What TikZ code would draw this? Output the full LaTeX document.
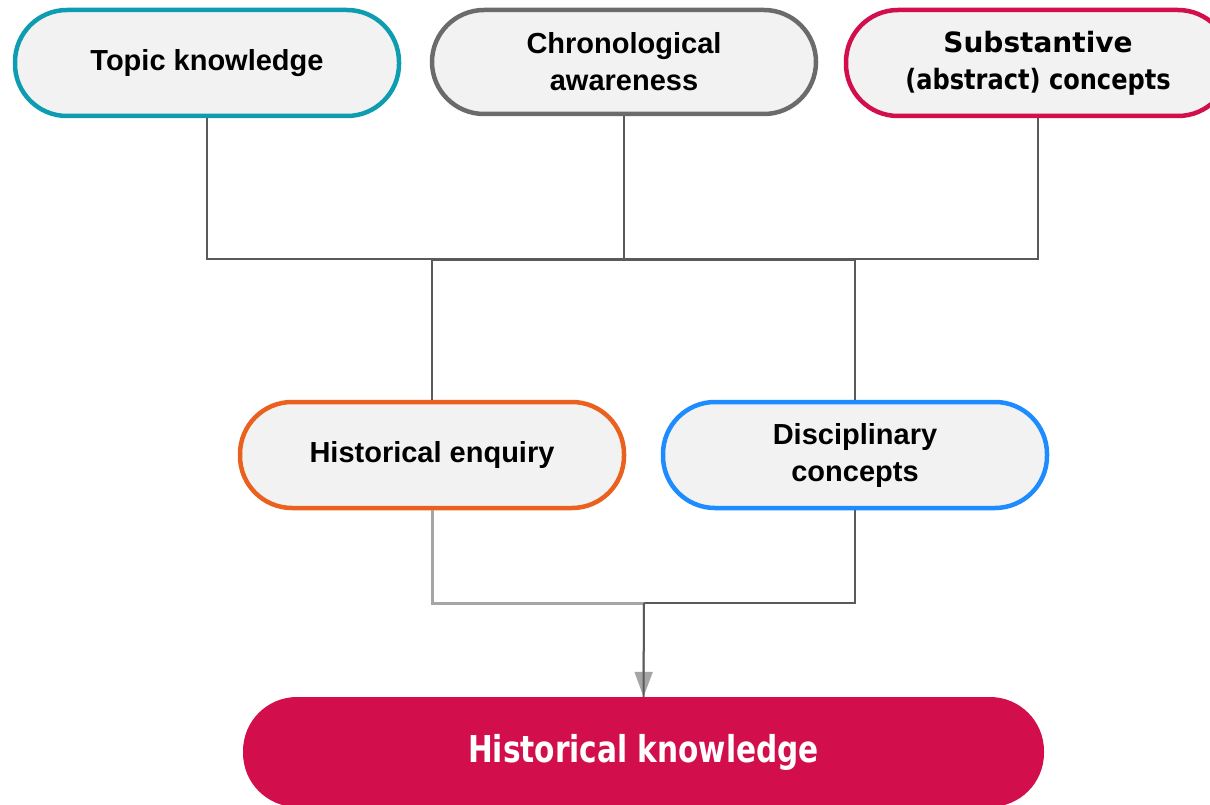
\documentclass[tikz,border=0pt]{standalone}
\usepackage{fontspec}
\setmainfont{Liberation Sans}
\newfontfamily\tahoma{DejaVu Sans}
\newfontfamily\hkfont[FakeStretch=0.8]{DejaVu Sans}
\usetikzlibrary{arrows.meta}
\definecolor{cteal}{RGB}{14,157,176}
\definecolor{cgray}{RGB}{107,107,107}
\definecolor{ccrimson}{RGB}{210,14,76}
\definecolor{corange}{RGB}{234,96,30}
\definecolor{cblue}{RGB}{30,140,255}
\definecolor{cfill}{RGB}{242,242,242}
\definecolor{cline}{RGB}{90,90,90}
\definecolor{clight}{RGB}{165,165,165}
\tikzset{
  pill/.style={draw, line width=4.5pt, fill=cfill, rounded corners=52pt,
    minimum width=384pt, minimum height=106pt, inner sep=0pt, align=center,
    font=\fontsize{29}{37}\selectfont\bfseries},
  conn/.style={draw=cline, line width=2pt},
  connlight/.style={draw=clight, line width=3pt},
}
\begin{document}
\begin{tikzpicture}[x=1pt,y=-1pt]
\useasboundingbox (0,0) rectangle (1210,805);
\node[pill, draw=cteal] (topic) at (207,63) {Topic knowledge};
\node[pill, draw=cgray, minimum height=104pt] (chron) at (624,62) {Chronological\\awareness};
\node[pill, draw=ccrimson, font=\tahoma\fontsize{28}{37}\selectfont\bfseries] (sub) at (1038,63)
  {Substantive\\\scalebox{0.86}[1]{(abstract) concepts}};
\node[pill, draw=corange] (enq) at (432,455) {Historical enquiry};
\node[pill, draw=cblue] (disc) at (855,455) {Disciplinary\\concepts};
\node[draw=none, fill=ccrimson, rounded corners=54pt, minimum width=801pt, minimum height=110pt,
  inner sep=0pt, text=white, font=\hkfont\fontsize{37}{44}\selectfont\bfseries] (hk) at (643.5,752) {Historical knowledge};

\coordinate (J) at (624,259);
\coordinate (B1) at (432,260);
\coordinate (B2) at (855,260);
\coordinate (K) at (644,603);

\draw[conn] (topic.south) |- (J);
\draw[conn] (sub.south) |- (J);
\draw[conn] (chron.south) -- (J);
\draw[conn] (B1) -- (B2);
\draw[conn] (B1) -- (enq.north);
\draw[conn] (B2) -- (disc.north);

\draw[connlight] (enq.south) |- (K);
\draw[conn] (disc.south) |- (K);
\draw[draw=clight, line width=2pt, -{Triangle[width=18pt,length=25pt]}] (K) -- (hk.north);
\draw[conn] (K) -- (hk.north);
\end{tikzpicture}
\end{document}
